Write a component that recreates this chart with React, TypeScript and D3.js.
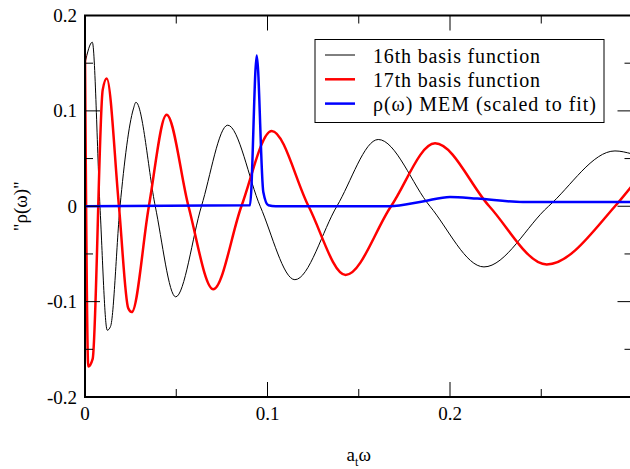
import React from "react";
import * as d3 from "d3";

// 16th basis function (x = a_t ω, y = value)
const basis16X = [0, 0.004, 0.0082, 0.0122, 0.014, 0.0192, 0.0265, 0.0279, 0.0385, 0.0497, 0.0638, 0.0782, 0.096, 0.115, 0.138, 0.1607, 0.189, 0.2186, 0.254, 0.2904, 0.2995];
const basis16Y = [0.15, 0.172, 0.0, -0.13, -0.126, 0.0, 0.102, 0.109, 0.0, -0.095, 0.0, 0.085, 0.0, -0.077, 0.0, 0.07, 0.0, -0.0636, 0.0, 0.058, 0.055];

// 17th basis function
const basis17X = [0, 0.0018, 0.0042, 0.0097, 0.0119, 0.0186, 0.0237, 0.0256, 0.035, 0.0447, 0.0567, 0.0703, 0.0857, 0.1023, 0.1225, 0.1428, 0.1677, 0.1918, 0.2215, 0.253, 0.2904, 0.2995];
const basis17Y = [0.16, -0.168, -0.16, 0.122, 0.134, 0.0, -0.107, -0.111, 0.0, 0.096, 0.0, -0.087, 0.0, 0.079, 0.0, -0.072, 0.0, 0.066, 0.0, -0.061, 0.0, 0.021];

// ρ(ω) MEM (scaled to fit)
const memX = [0, 0.0904, 0.0941, 0.0977, 0.1005, 0.1045, 0.167, 0.185, 0.2, 0.215, 0.24, 0.2995];
const memY = [0, 0.001, 0.158, 0.015, 0.001, 0, 0, 0.005, 0.0098, 0.008, 0.0045, 0.0045];

const xMajorTicks = [0, 0.1, 0.2, 0.3];
const xMinorTicks = [0.05, 0.15, 0.25];
const yMajorTicks = [-0.2, -0.1, 0, 0.1, 0.2];
const yMinorTicks = [-0.15, -0.05, 0.05, 0.15];
const xTickLabels = ["0", "0.1", "0.2"];
const yTickLabels = ["-0.2", "-0.1", "0", "0.1", "0.2"];
const legendLabels = ["16th basis function", "17th basis function", "ρ(ω) MEM (scaled to fit)"];
const legendWidths = [167, 167, 223];

const W = 630;
const H = 469;
const L = 85;
const R = 632.5;
const T = 15.5;
const B = 397;
const FONT = '"Liberation Serif", "Times New Roman", Tinos, "DejaVu Serif", serif';
const ts = { fontFamily: FONT };

export default function App() {
  const x = d3.scaleLinear().domain([0, 0.3]).range([L, R]);
  const y = d3.scaleLinear().domain([-0.2, 0.2]).range([B, T]);
  const line = d3
    .line<[number, number]>()
    .x((d) => x(d[0]))
    .y((d) => y(d[1]))
    .curve(d3.curveMonotoneX);

  const zip = (xs: number[], ys: number[]) => xs.map((v, i) => [v, ys[i]] as [number, number]);
  const series = [
    { data: zip(basis16X, basis16Y), color: "#000000", width: 1 },
    { data: zip(basis17X, basis17Y), color: "#ff0000", width: 2.5 },
    { data: zip(memX, memY), color: "#0000ff", width: 2.5 },
  ];

  return (
    <svg width={W} height={H} style={{ position: "absolute", left: 0, top: 0, background: "#fff" }}>
      <defs>
        <clipPath id="plotclip">
          <rect x={L} y={T} width={R - L} height={B - T} />
        </clipPath>
      </defs>
      <rect x={0} y={0} width={W} height={H} fill="#fff" />
      <g clipPath="url(#plotclip)">
        {series.map((s, i) => (
          <path key={i} d={line(s.data) || ""} fill="none" stroke={s.color} strokeWidth={s.width} strokeLinejoin="round" />
        ))}
      </g>
      {/* frame */}
      <rect x={L} y={T} width={R - L} height={B - T} fill="none" stroke="#000" strokeWidth={2} />
      {/* ticks */}
      <g stroke="#000" strokeWidth={1}>
        {xMajorTicks.map((t) => (
          <g key={"xM" + t}>
            <line x1={x(t)} x2={x(t)} y1={B} y2={B - 15} />
            <line x1={x(t)} x2={x(t)} y1={T} y2={T + 15} />
          </g>
        ))}
        {xMinorTicks.map((t) => (
          <g key={"xm" + t}>
            <line x1={x(t)} x2={x(t)} y1={B} y2={B - 8} />
            <line x1={x(t)} x2={x(t)} y1={T} y2={T + 8} />
          </g>
        ))}
        {yMajorTicks.map((t) => (
          <g key={"yM" + t}>
            <line x1={L} x2={L + 15} y1={y(t)} y2={y(t)} />
            <line x1={R} x2={R - 15} y1={y(t)} y2={y(t)} />
          </g>
        ))}
        {yMinorTicks.map((t) => (
          <g key={"ym" + t}>
            <line x1={L} x2={L + 8} y1={y(t)} y2={y(t)} />
            <line x1={R} x2={R - 8} y1={y(t)} y2={y(t)} />
          </g>
        ))}
      </g>
      {/* tick labels */}
      <g fill="#000">
        {xTickLabels.map((lab, i) => (
          <text key={lab} x={x(xMajorTicks[i])} y={420} textAnchor="middle" fontSize={19} style={ts}>
            {lab}
          </text>
        ))}
        {yTickLabels.map((lab, i) => (
          <text key={lab} x={77} y={y(yMajorTicks[i]) + 6.5} textAnchor="end" fontSize={19} style={ts}>
            {lab}
          </text>
        ))}
      </g>
      {/* axis titles */}
      <text x={(L + R) / 2} y={461} textAnchor="middle" fontSize={19} style={ts}>
        a<tspan fontSize={12} dy={5}>t</tspan>
        <tspan dy={-5}>ω</tspan>
      </text>
      <text transform={`translate(27, ${(T + B) / 2}) rotate(-90)`} textAnchor="middle" fontSize={19} style={ts}>
        "ρ(ω)"
      </text>
      {/* legend */}
      <rect x={315} y={39.5} width={289} height={83} fill="#fff" stroke="#000" strokeWidth={1} />
      {legendLabels.map((lab, i) => (
        <g key={lab}>
          <line x1={325} x2={355} y1={55 + i * 24.3} y2={55 + i * 24.3} stroke={series[i].color} strokeWidth={series[i].width} />
          <text x={373} y={62.5 + i * 24.3} fontSize={20} style={ts} textLength={legendWidths[i]} lengthAdjust="spacing">
            {lab}
          </text>
        </g>
      ))}
    </svg>
  );
}
